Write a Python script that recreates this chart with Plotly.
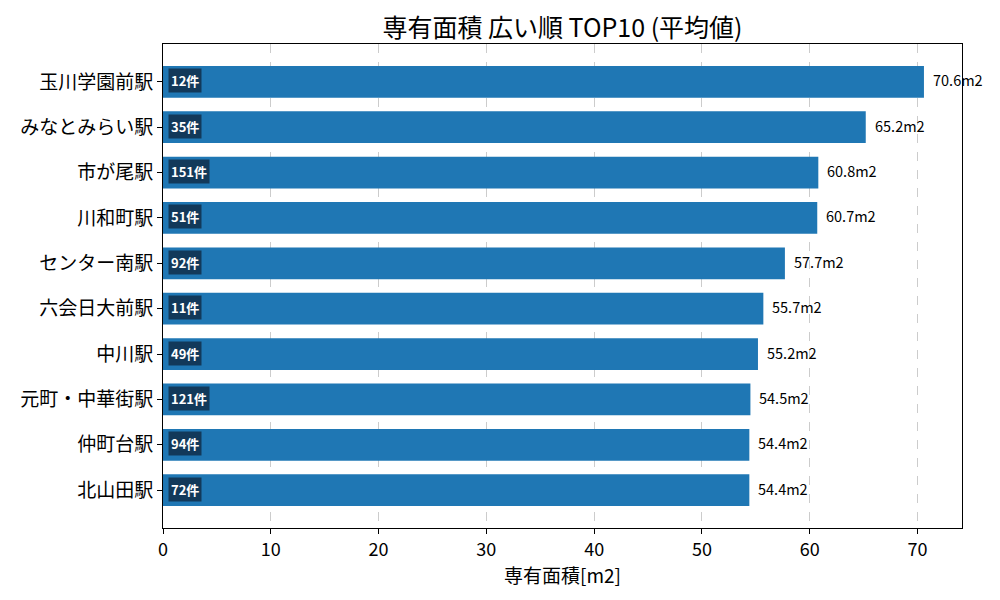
import plotly.graph_objects as go

stations = ["玉川学園前駅", "みなとみらい駅", "市が尾駅", "川和町駅", "センター南駅",
            "六会日大前駅", "中川駅", "元町・中華街駅", "仲町台駅", "北山田駅"]
avg_area = [70.6, 65.2, 60.8, 60.7, 57.7, 55.7, 55.2, 54.5, 54.4, 54.4]
counts = [12, 35, 151, 51, 92, 11, 49, 121, 94, 72]

FONT = "Noto Sans CJK JP"

fig = go.Figure()
fig.add_trace(go.Bar(
    x=avg_area, y=stations, orientation="h", width=0.7,
    marker=dict(color="#1f77b4", line=dict(width=0)),
    hoverinfo="skip",
))

# value labels at bar ends
for s, v in zip(stations, avg_area):
    fig.add_annotation(x=v, y=s, text=f"{v:.1f}m2", showarrow=False,
                       xanchor="left", xshift=7, yshift=2,
                       font=dict(family=FONT, size=14.5, color="black"))

# count badges at bar starts
for s, c in zip(stations, counts):
    fig.add_annotation(x=0, y=s, text=f"<b>{c}件</b>", showarrow=False,
                       xanchor="left", xshift=5, yshift=1,
                       bgcolor="rgba(17,52,82,0.92)", borderpad=2,
                       font=dict(family=FONT, size=13, color="white"))

# page body has an 8px margin, so margins are offset by 8px
fig.update_layout(
    width=1000, height=600,
    margin=dict(l=153, r=46, t=36, b=80),
    plot_bgcolor="white", paper_bgcolor="white",
    showlegend=False,
    font=dict(family=FONT, color="black"),
    title=dict(text="専有面積 広い順 TOP10 (平均値)", x=0.5, xanchor="center",
               xref="paper", yref="container",
               y=0.966, yanchor="middle", font=dict(family=FONT, size=25)),
    xaxis=dict(
        range=[0, max(avg_area) * 1.05], dtick=10, tick0=0,
        showgrid=True, gridcolor="#cccccc", griddash="dash", gridwidth=1,
        ticks="outside", ticklen=5, tickcolor="black",
        showline=True, linecolor="black", linewidth=1, mirror=True,
        zeroline=False,
        tickfont=dict(family=FONT, size=18),
        title=dict(text="専有面積[m2]", font=dict(family=FONT, size=19), standoff=3),
    ),
    yaxis=dict(
        autorange=False, range=[len(stations) - 1 + 0.835, -0.835],
        categoryorder="array", categoryarray=stations,
        showgrid=False, ticks="outside", ticklen=5, tickcolor="black",
        showline=True, linecolor="black", linewidth=1, mirror=True,
        zeroline=False,
        tickfont=dict(family=FONT, size=19),
    ),
)

fig.write_html("out.html")
